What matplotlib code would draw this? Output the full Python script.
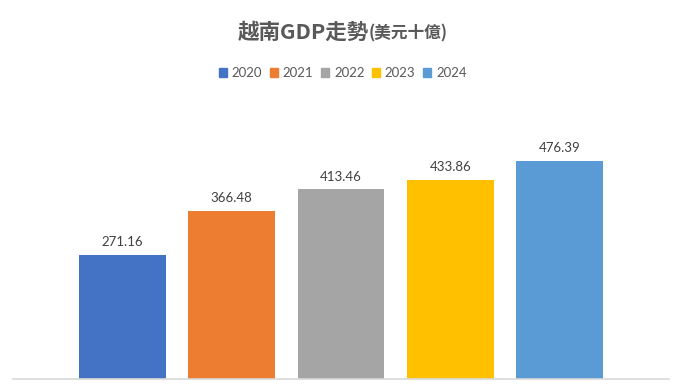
import matplotlib
matplotlib.use("Agg")
import matplotlib.pyplot as plt
import matplotlib.patches as mpatches

# Data
years = ["2020", "2021", "2022", "2023", "2024"]
gdp = [271.16, 366.48, 413.46, 433.86, 476.39]
colors = ["#4472C4", "#ED7D31", "#A5A5A5", "#FFC000", "#5B9BD5"]

plt.rcParams['font.family'] = ['Lato', 'Noto Sans CJK TC', 'DejaVu Sans']

fig = plt.figure(figsize=(6.81, 3.89), dpi=100)
ax = fig.add_axes([13/681, 10/389, 656/681, 275/389])

x = list(range(len(years)))
bars = ax.bar(x, gdp, width=0.795, color=colors)

# value labels above bars
for b, v in zip(bars, gdp):
    ax.annotate(f"{v:.2f}", (b.get_x() + b.get_width()/2, v),
                xytext=(0, 5), textcoords="offset points",
                ha="center", va="bottom", fontsize=9.5, color="#404040")

ax.set_xlim(-1, 5)
ax.set_ylim(0, 600)
ax.set_xticks([])
ax.set_yticks([])
for s in ["top", "left", "right"]:
    ax.spines[s].set_visible(False)
ax.spines["bottom"].set_color("#D9D9D9")
ax.spines["bottom"].set_linewidth(1.2)

# title (main part + smaller unit part)
split_x = 369/681
fig.text(split_x, 1 - 32/389, "越南GDP走勢", ha="right", va="center",
         fontsize=15.5, fontweight="bold", color="#595959",
         family=['Noto Sans CJK TC', 'DejaVu Sans'])
fig.text(split_x, 1 - 33/389, "(美元十億)", ha="left", va="center",
         fontsize=12, fontweight="bold", color="#595959",
         family=['Noto Sans CJK TC', 'DejaVu Sans'])

# legend
handles = [mpatches.Patch(color=c, label=y) for y, c in zip(years, colors)]
fig.legend(handles=handles, loc="center", bbox_to_anchor=(343/681, 1 - 73/389),
           ncol=5, frameon=False, fontsize=9.5, labelcolor="#595959",
           handlelength=0.6, handleheight=0.6, handletextpad=0.35,
           columnspacing=0.6)

fig.savefig("out.png", dpi=100)
